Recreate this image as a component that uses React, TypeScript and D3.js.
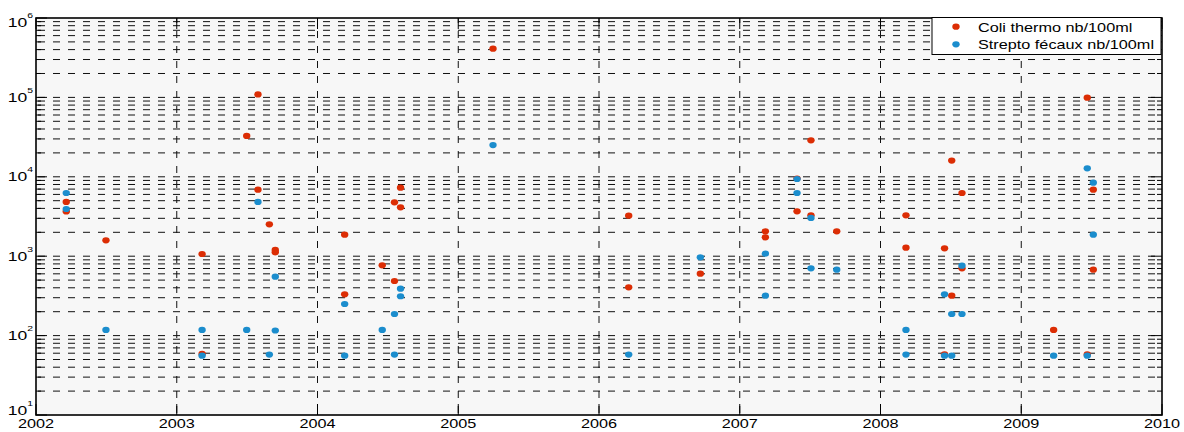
import React from 'react';
import {scaleLinear, scaleLog, range} from 'd3';

// sampling dates (decimal years) and counts
const coliYears = [2002.215, 2002.215, 2002.497, 2003.18, 2003.18, 2003.497, 2003.577, 2003.577, 2003.658, 2003.70, 2003.70,
    2004.193, 2004.193, 2004.46, 2004.547, 2004.547, 2004.59, 2004.59, 2005.247, 2006.211, 2006.211, 2006.72,
    2007.182, 2007.182, 2007.407, 2007.407, 2007.506, 2007.506, 2007.689, 2008.181, 2008.181, 2008.455, 2008.455,
    2008.506, 2008.506, 2008.579, 2008.579, 2009.23, 2009.469, 2009.469, 2009.512, 2009.512];
const coliValues = [4820, 3660, 1585, 1066, 58.7, 32700, 109000, 6880, 2523, 1200, 1120,
    1866, 331, 767, 4775, 487, 7290, 4130, 411000, 3240, 406, 602,
    2057, 1729, 9500, 3675, 28800, 3270, 2057, 3270, 1280, 1257, 58,
    16000, 318, 6250, 703, 118, 99300, 58, 6880, 676];

const streptoYears = [2002.215, 2002.215, 2002.497, 2003.18, 2003.18, 2003.497, 2003.577, 2003.658, 2003.70, 2003.70,
    2004.193, 2004.193, 2004.46, 2004.547, 2004.547, 2004.59, 2004.59, 2005.247, 2006.211, 2006.72,
    2007.182, 2007.182, 2007.407, 2007.407, 2007.506, 2007.506, 2007.689, 2008.181, 2008.181, 2008.455, 2008.455,
    2008.506, 2008.506, 2008.579, 2008.579, 2009.23, 2009.469, 2009.469, 2009.512, 2009.512];
const streptoValues = [6250, 3930, 118, 118, 55.8, 118, 4820, 57.6, 552, 116,
    250, 55.8, 118, 187, 57.6, 390, 313, 25100, 57.6, 969,
    1076, 318, 9380, 6250, 3030, 703, 676, 118, 57.6, 331, 55.8,
    187, 55.8, 760, 187, 55.8, 12800, 55.8, 8430, 1866];

const yearTicks = [2002, 2003, 2004, 2005, 2006, 2007, 2008, 2009, 2010];
const decadeTicks = [1, 2, 3, 4, 5, 6];
const seriesNames = ['Coli thermo nb/100ml', 'Strepto fécaux nb/100ml'];
const seriesColors = ['#dc2d04', '#1b8dcd'];

const spec = {width: 1184, height: 432, left: 36, right: 1162, top: 18, bottom: 415};
const font = 'Liberation Sans, Arial, sans-serif';
const sx = 1.3;

let App = () => {
    let xScale = scaleLinear().domain([2002, 2010]).range([spec.left, spec.right]);
    let yScale = scaleLog().domain([10, 1e6]).range([spec.bottom, spec.top]);

    // every 1..9 x 10^k between the bounds
    let gridValues = [];
    decadeTicks.slice(0, -1).forEach(p => range(1, 10).forEach(m => gridValues.push(m * Math.pow(10, p))));
    gridValues.push(1e6);
    let minor = gridValues.filter(v => !decadeTicks.includes(Math.round(Math.log10(v) * 1000) / 1000));

    let series = [
        {years: coliYears, values: coliValues},
        {years: streptoYears, values: streptoValues}
    ];

    return (
        <svg width={spec.width} height={spec.height} style={{position: 'absolute', left: 0, top: 0, background: '#fff'}}
             fontFamily={font}>
            <rect x={spec.left} y={spec.top} width={spec.right - spec.left} height={spec.bottom - spec.top} fill="#f7f7f7"/>

            <g className="grid" stroke="#111" strokeWidth="1" fill="none">
                {gridValues.filter(v => v > 10 && v < 1e6).map((v, i) =>
                    <line key={'h' + i} x1={spec.left} x2={spec.right} y1={yScale(v)} y2={yScale(v)}
                          strokeDasharray="7,8" strokeDashoffset="-2"/>)}
                {yearTicks.slice(1, -1).map(t =>
                    <line key={'v' + t} x1={xScale(t)} x2={xScale(t)} y1={spec.bottom} y2={spec.top}
                          strokeDasharray="7,8" strokeDashoffset="-2"/>)}
            </g>

            <g className="ticks" stroke="#000" strokeWidth="1">
                {minor.map((v, i) => <g key={'m' + i}>
                    <line x1={spec.left} x2={spec.left + 5} y1={yScale(v)} y2={yScale(v)}/>
                    <line x1={spec.right} x2={spec.right - 5} y1={yScale(v)} y2={yScale(v)}/>
                </g>)}
                {decadeTicks.map(p => <g key={'d' + p}>
                    <line x1={spec.left} x2={spec.left + 11} y1={yScale(Math.pow(10, p))} y2={yScale(Math.pow(10, p))}/>
                    <line x1={spec.right} x2={spec.right - 11} y1={yScale(Math.pow(10, p))} y2={yScale(Math.pow(10, p))}/>
                </g>)}
                {yearTicks.map(t => <g key={'y' + t}>
                    <line x1={xScale(t)} x2={xScale(t)} y1={spec.bottom} y2={spec.bottom - 11}/>
                    <line x1={xScale(t)} x2={xScale(t)} y1={spec.top} y2={spec.top + 11}/>
                </g>)}
            </g>

            {series.map((s, k) =>
                <g key={'s' + k} fill={seriesColors[k]}>
                    {s.values.map((v, i) =>
                        <ellipse key={i} cx={xScale(s.years[i])} cy={yScale(v)} rx="3.7" ry="3.1"/>)}
                </g>)}

            <rect x={spec.left} y={spec.top} width={spec.right - spec.left} height={spec.bottom - spec.top}
                  fill="none" stroke="#000" strokeWidth="1.6"/>

            <g className="y-labels" fill="#000">
                {decadeTicks.map(p => {
                    let cy = Math.min(Math.max(yScale(Math.pow(10, p)), 22), 410.5);
                    return <text key={p} transform={`translate(33,${cy + 4.6}) scale(${sx},1)`} textAnchor="end" fontSize="13.5">
                        10<tspan dy="-9" fontSize="8">{p}</tspan>
                    </text>;
                })}
            </g>

            <g className="x-labels" fill="#000">
                {yearTicks.map(t =>
                    <text key={t} transform={`translate(${xScale(t)},427.5) scale(${sx},1)`} textAnchor="middle" fontSize="12.5">{t}</text>)}
            </g>

            <g className="legend" transform="translate(932,17.5)">
                <rect width="229" height="37" fill="#fff" stroke="#000" strokeWidth="1"/>
                {seriesNames.map((name, i) => <g key={name} transform={`translate(0,${9.2 + i * 17.6})`}>
                    <ellipse cx="24" cy="0" rx="3.7" ry="3.1" fill={seriesColors[i]}/>
                    <text transform={`translate(46,5) scale(${sx},1)`} fontSize="12.5" fill="#000">{name}</text>
                </g>)}
            </g>
        </svg>
    );
};

export default App;
